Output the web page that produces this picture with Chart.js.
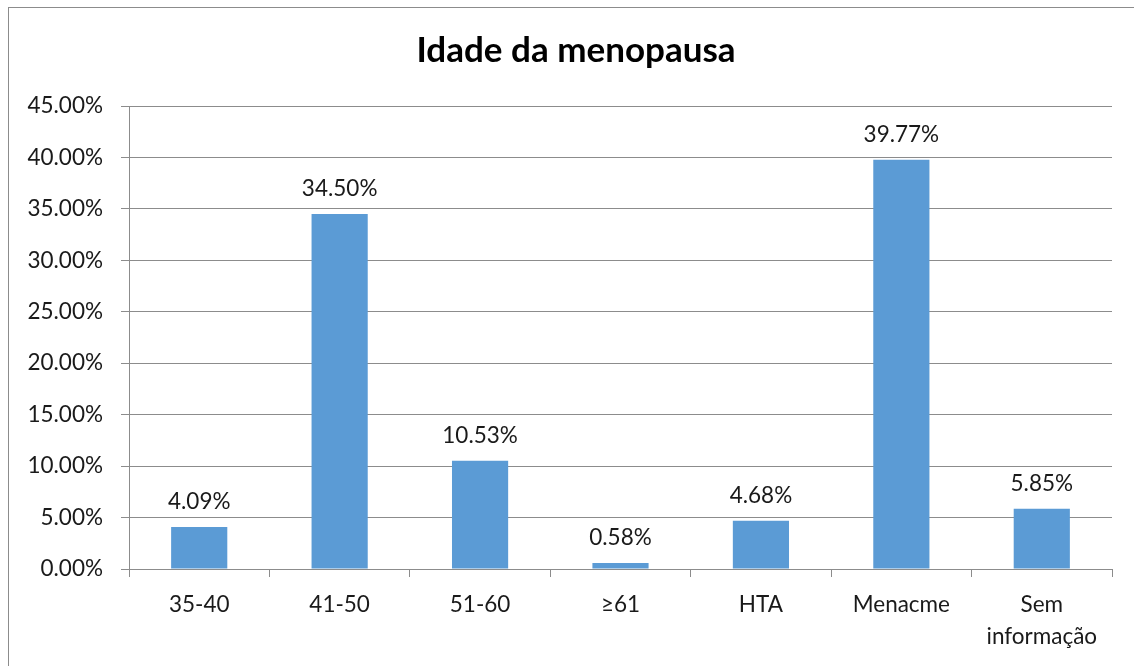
<!DOCTYPE html>
<html>
<head>
<meta charset="utf-8">
<script src="https://cdn.jsdelivr.net/npm/chart.js@4"></script>
<style>
  html, body { margin: 0; padding: 0; background: #fff; overflow: hidden; }
  #frame { position: absolute; left: 8px; top: 7px; width: 1200px; height: 720px; border: 1px solid #8c8c8c; }
  #wrap { position: absolute; left: 0; top: 0; width: 1134px; height: 666px; }
</style>
</head>
<body>
<div id="frame"></div>
<div id="wrap"><canvas id="c"></canvas></div>
<script>
"use strict";

const TITLE = "Idade da menopausa";
const CATEGORIES = ["35-40", "41-50", "51-60", "≥61", "HTA", "Menacme", ["Sem", "informação"]];
const VALUES = [4.09, 34.50, 10.53, 0.58, 4.68, 39.77, 5.85];
const Y_MIN = 0;
const Y_MAX = 45;
const Y_STEP = 5;

const FONT = "Lato, 'Open Sans', sans-serif";
const GRID = "#8c8c8c";
const BAR = "#5b9bd5";
const TEXT = "#1a1a1a";

// value labels above each bar, plus the title (the whole frame is wider than the canvas,
// so the title sits a bit right of the canvas centre)
const extras = {
  id: "extras",
  afterDatasetsDraw(chart) {
    const ctx = chart.ctx;
    const meta = chart.getDatasetMeta(0);
    ctx.save();
    ctx.font = `22.5px ${FONT}`;
    ctx.fillStyle = TEXT;
    ctx.textAlign = "center";
    ctx.textBaseline = "middle";
    meta.data.forEach((bar, i) => {
      ctx.fillText(VALUES[i].toFixed(2) + "%", bar.x, bar.y - 25);
    });
    ctx.font = `bold 35px ${FONT}`;
    ctx.fillStyle = "#000";
    ctx.fillText(TITLE, 576, 51);
    ctx.restore();
  },
};

new Chart(document.getElementById("c"), {
  type: "bar",
  data: {
    labels: CATEGORIES,
    datasets: [{
      data: VALUES,
      backgroundColor: BAR,
      borderWidth: 0,
      categoryPercentage: 1,
      barPercentage: 0.4,
    }],
  },
  options: {
    responsive: true,
    maintainAspectRatio: false,
    animation: false,
    layout: { padding: { left: 0, right: 22, top: 106, bottom: 0 } },
    plugins: {
      legend: { display: false },
      tooltip: { enabled: false },
      title: { display: false },
    },
    scales: {
      x: {
        grid: { display: true, drawOnChartArea: false, color: GRID, tickLength: 8, offset: true },
        border: { color: GRID, width: 1 },
        ticks: { color: TEXT, font: { family: FONT, size: 22.5, lineHeight: 1.42 }, padding: 12, maxRotation: 0, autoSkip: false },
        afterFit(s) { s.height = 97; },
      },
      y: {
        min: Y_MIN,
        max: Y_MAX,
        grid: { color: GRID, tickLength: 8 },
        border: { color: GRID, width: 1 },
        ticks: {
          stepSize: Y_STEP,
          color: TEXT,
          font: { family: FONT, size: 22.5 },
          padding: 18,
          callback: (v) => v.toFixed(2) + "%",
        },
        afterFit(s) { s.width = 129; },
      },
    },
  },
  plugins: [extras],
});
</script>
</body>
</html>
